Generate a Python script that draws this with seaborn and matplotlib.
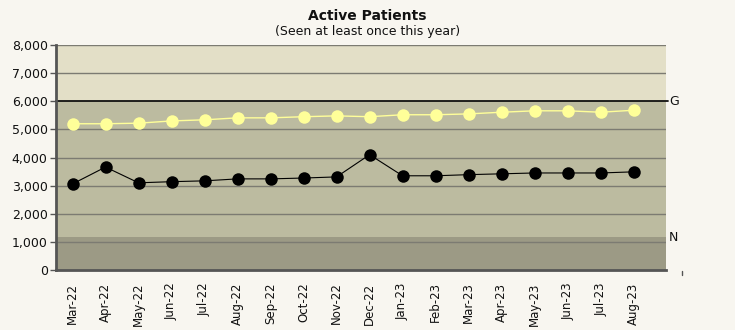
import matplotlib
matplotlib.use("Agg")
import matplotlib.pyplot as plt
import seaborn as sns
import pandas as pd
from matplotlib.ticker import FuncFormatter
import matplotlib.transforms as mtransforms

months = ["Mar-22", "Apr-22", "May-22", "Jun-22", "Jul-22", "Aug-22", "Sep-22", "Oct-22", "Nov-22",
          "Dec-22", "Jan-23", "Feb-23", "Mar-23", "Apr-23", "May-23", "Jun-23", "Jul-23", "Aug-23"]
active = [3060, 3660, 3100, 3140, 3170, 3240, 3240, 3270, 3310,
          4100, 3350, 3350, 3390, 3420, 3450, 3450, 3450, 3490]
goal_series = [5200, 5200, 5220, 5300, 5340, 5410, 5410, 5450, 5480,
               5450, 5520, 5520, 5550, 5610, 5660, 5660, 5610, 5680]
goal_level = 6000
norm_level = 1170
y_ticks = [0, 1000, 2000, 3000, 4000, 5000, 6000, 7000, 8000]

sns.set_theme(style="white")
plt.rcParams['font.family'] = ['DejaVu Sans']

BG = "#f8f6f0"
fig = plt.figure(figsize=(7.35, 3.30), dpi=100, facecolor=BG)
ax = fig.add_axes([56/735, 60/330, 610/735, 225/330])
ax.set_facecolor(BG)

x = list(range(len(months)))
df = pd.DataFrame({"x": x * 2,
                   "value": active + goal_series,
                   "series": ["Active"] * len(x) + ["Upper"] * len(x)})

# background bands
ax.axhspan(0, norm_level, color="#9c9a85", zorder=0, lw=0)
ax.axhspan(norm_level, goal_level, color="#bcbba0", zorder=0, lw=0)
ax.axhspan(goal_level, 8000, color="#e3dfc7", zorder=0, lw=0)

for yv in y_ticks[1:]:
    if yv == goal_level:
        continue
    ax.axhline(yv, color="#7c7b72", lw=1.0, zorder=1)
ax.plot([-0.5, 18.05], [goal_level, goal_level], color="#111111", lw=1.3, zorder=2, clip_on=False)

sns.lineplot(data=df[df.series == "Upper"], x="x", y="value", ax=ax, color="#ffff99",
             marker="o", markersize=9, markeredgewidth=0, markerfacecolor="#ffff99",
             lw=1.0, zorder=3, legend=False)
sns.lineplot(data=df[df.series == "Active"], x="x", y="value", ax=ax, color="#000000",
             marker="o", markersize=9, markeredgewidth=0, markerfacecolor="#000000",
             lw=0.8, zorder=4, legend=False)

ax.set_xlim(-0.5, 17.98)
ax.set_ylim(0, 8000)
ax.set_yticks(y_ticks)
ax.yaxis.set_major_formatter(FuncFormatter(lambda v, p: f"{int(v):,}"))
ax.set_xticks(x)
ax.set_xticklabels(months, rotation=90, fontsize=8.5, color="#111111")
ax.set_xticks([i - 0.5 for i in range(len(months) + 1)], minor=True)
ax.tick_params(axis="x", which="major", length=0, pad=9)
ax.tick_params(axis="x", which="minor", length=3, width=1, color="#555555", direction="out")
ax.tick_params(axis="y", length=4, width=1, color="#555555", labelsize=9, labelcolor="#111111", pad=2,
               left=True)
ax.set_xlabel("")
ax.set_ylabel("")

for s in ["top", "right"]:
    ax.spines[s].set_visible(False)
ax.spines["left"].set_color("#555555")
ax.spines["left"].set_linewidth(2)
ax.spines["bottom"].set_color("#555555")
ax.spines["bottom"].set_linewidth(2)

ax.text(18.07, goal_level, "G", ha="left", va="center", fontsize=9, color="#111111")
ax.text(18.07, norm_level, "N", ha="left", va="center", fontsize=9, color="#111111")

trans = mtransforms.blended_transform_factory(ax.transData, ax.transAxes)
ax.plot([18.47, 18.47], [-0.005, -0.02], color="#555555", lw=1, transform=trans, clip_on=False)

fig.text(0.5, 1 - 16/330, "Active Patients", ha="center", va="center", fontsize=10,
         fontweight="bold", color="#111111")
fig.text(0.5, 1 - 32/330, "(Seen at least once this year)", ha="center", va="center",
         fontsize=9, color="#111111")

fig.savefig("out.png", dpi=100, facecolor=BG)
